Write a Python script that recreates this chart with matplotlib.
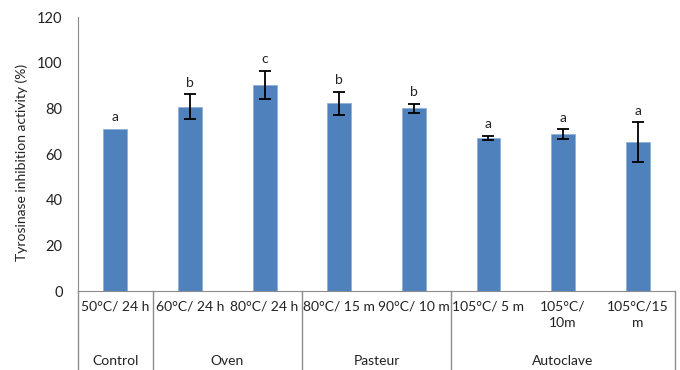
import numpy as np
import matplotlib.pyplot as plt

plt.rcParams['font.family'] = ['Lato', 'DejaVu Sans']

# treatment labels, grouped by heating method
treatments = ['50°C/ 24 h', '60°C/ 24 h', '80°C/ 24 h', '80°C/ 15 m', '90°C/ 10 m',
              '105°C/ 5 m', '105°C/\n10m', '105°C/15\nm']
groups = ['Control', 'Oven', 'Pasteur', 'Autoclave']
group_sizes = [1, 2, 2, 3]

activity = [71.0, 80.7, 90.2, 82.3, 80.0, 67.0, 68.6, 65.1]
sd = [0.0, 5.4, 6.3, 5.0, 2.0, 1.0, 2.2, 8.8]
letters = ['a', 'b', 'c', 'b', 'b', 'a', 'a', 'a']

fig = plt.figure(figsize=(6.8, 3.7), dpi=100)
ax = fig.add_axes([0.1147, 0.2135, 0.878, 0.7405])

x = np.arange(len(treatments))
ax.bar(x, activity, width=0.32, color='#4F81BD', edgecolor='#8fb0d8', linewidth=0.6, zorder=2)
has_err = np.array(sd) > 0
ax.errorbar(x[has_err], np.array(activity)[has_err], yerr=np.array(sd)[has_err], fmt='none',
            ecolor='black', elinewidth=1.3, capsize=4, capthick=1.3, zorder=3)
for xi, v, e, s in zip(x, activity, sd, letters):
    ax.annotate(s, (xi, v + e), xytext=(0, 4), textcoords='offset points',
                ha='center', va='bottom', fontsize=10, color='#222222')

ax.set_xlim(-0.5, len(treatments) - 0.5)
ax.set_ylim(0, 120)
ax.set_yticks(range(0, 121, 20))
ax.tick_params(axis='y', length=0, labelsize=10.5, pad=11, colors='#222222')
ax.tick_params(axis='x', length=0, labelbottom=False)
ax.set_ylabel('Tyrosinase inhibition activity (%)', fontsize=10, color='#222222')
ax.yaxis.set_label_coords(-0.084, 0.47)
for side in ['top', 'right']:
    ax.spines[side].set_visible(False)
ax.spines['left'].set_color('#8c8c8c')
ax.spines['bottom'].set_color('#8c8c8c')

# two-level category axis below the plot
trans = ax.get_xaxis_transform()
for xi, lab in zip(x, treatments):
    ax.text(xi, -0.035, lab, transform=trans, ha='center', va='top',
            fontsize=10, linespacing=1.4, color='#222222')

edges = np.concatenate([[0], np.cumsum(group_sizes)]) - 0.5
for e in edges:
    ax.plot([e, e], [0, -0.35], transform=trans, color='#8c8c8c', lw=1, clip_on=False)
for g, a, b in zip(groups, edges[:-1], edges[1:]):
    ax.text((a + b) / 2, -0.255, g, transform=trans, ha='center', va='center',
            fontsize=10, color='#222222')

fig.savefig('out.png', dpi=100)
